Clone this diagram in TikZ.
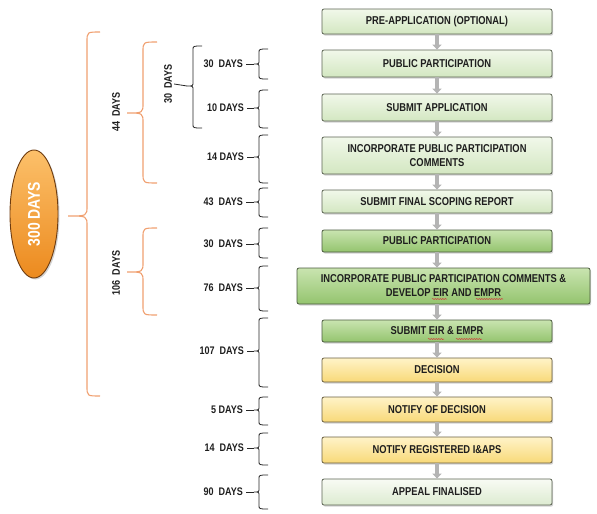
\documentclass[tikz,border=0pt]{standalone}
\usepackage{fontspec}
\setmainfont{Liberation Sans}
\newfontfamily\narrowfont{Liberation Sans}[FakeStretch=0.82]
\usetikzlibrary{arrows.meta,shadows,shapes.geometric,decorations.pathmorphing}
\definecolor{txt}{HTML}{1E1E1E}
\definecolor{pgTop}{HTML}{F1F8EA}
\definecolor{pgBot}{HTML}{D3E7C1}
\definecolor{pgLine}{HTML}{5B6352}
\definecolor{mgTop}{HTML}{C9E4B0}
\definecolor{mgBot}{HTML}{94C46E}
\definecolor{mgLine}{HTML}{4A5A3E}
\definecolor{ylTop}{HTML}{FFF3C8}
\definecolor{ylBot}{HTML}{F8D978}
\definecolor{ylLine}{HTML}{6B6042}
\definecolor{wgTop}{HTML}{F8FBF4}
\definecolor{wgBot}{HTML}{DDEBD1}
\definecolor{orTop}{HTML}{FCC06A}
\definecolor{orBot}{HTML}{EC8A1E}
\definecolor{orLine}{HTML}{6E3C10}
\definecolor{orBrace}{HTML}{F0A070}
\definecolor{arr}{HTML}{B4B4B4}
\definecolor{spell}{HTML}{D23C3C}
\newcommand{\bracedraw}[8]{%
  \draw[#1] (#2,#5) .. controls (#3,#5) .. (#3,#5+#8) -- (#3,#6-#8)
    .. controls (#3,#6) .. (#4,#6) .. controls (#3,#6) .. (#3,#6+#8)
    -- (#3,#7-#8) .. controls (#3,#7) .. (#2,#7);}
\tikzset{
  boxbase/.style={rounded corners=2pt, minimum width=230pt, align=center,
    font=\narrowfont\bfseries\fontsize{11.4}{14}\selectfont, text=txt,
    line width=0.8pt,
    drop shadow={shadow xshift=1.2pt, shadow yshift=-1.6pt, opacity=0.35}},
  palebox/.style={boxbase, draw=pgLine, top color=pgTop, bottom color=pgBot},
  midbox/.style={boxbase, draw=mgLine, top color=mgTop, bottom color=mgBot},
  yelbox/.style={boxbase, draw=ylLine, top color=ylTop, bottom color=ylBot},
  whbox/.style={boxbase, draw=pgLine, top color=wgTop, bottom color=wgBot},
  daylabel/.style={anchor=east, inner xsep=3pt, text=txt,
    font=\narrowfont\bfseries\fontsize{11}{13}\selectfont},
  rotlabel/.style={rotate=90, inner sep=2pt, text=txt,
    font=\narrowfont\bfseries\fontsize{11}{13}\selectfont},
  blackbrace/.style={draw=black!85, line width=0.8pt},
  orangebrace/.style={draw=orBrace, line width=1.1pt},
  tick/.style={draw=black!85, line width=0.8pt},
  flowarrow/.style={draw=arr, line width=4.5pt,
    -{Triangle[width=9pt,length=5pt]}},
  squiggle/.style={draw=spell, line width=0.5pt,
    decorate, decoration={snake, amplitude=0.6pt, segment length=2.5pt}},
}
\begin{document}
\begin{tikzpicture}[x=1pt,y=-1pt]
\useasboundingbox (0,0) rectangle (597,514);
% flow boxes
\node[palebox, minimum height=25pt] (b1) at (437,21.5) {PRE-APPLICATION (OPTIONAL)};
\node[palebox, minimum height=27pt] (b2) at (437,63.5) {PUBLIC PARTICIPATION};
\node[palebox, minimum height=27pt] (b3) at (437,107.5) {SUBMIT APPLICATION};
\node[palebox, minimum height=37pt] (b4) at (437,155.5) {INCORPORATE PUBLIC PARTICIPATION\\COMMENTS};
\node[palebox, minimum height=23pt] (b5) at (437,201.5) {SUBMIT FINAL SCOPING REPORT};
\node[midbox, minimum height=22pt] (b6) at (437,241) {PUBLIC PARTICIPATION};
\node[midbox, minimum height=36pt, minimum width=293pt] (b7) at (443.5,286) {INCORPORATE PUBLIC PARTICIPATION COMMENTS \&\\DEVELOP EIR AND EMPR};
\node[midbox, minimum height=22pt] (b8) at (437,331) {SUBMIT EIR \& EMPR};
\node[yelbox, minimum height=24pt] (b9) at (437,370) {DECISION};
\node[yelbox, minimum height=25pt] (b10) at (437,409.5) {NOTIFY OF DECISION};
\node[yelbox, minimum height=26pt] (b11) at (437,450) {NOTIFY REGISTERED I\&APS};
\node[whbox, minimum height=26pt] (b12) at (437,492) {APPEAL FINALISED};
% spell-check marks
\coordinate (s1a) at (432,299); \coordinate (s1b) at (447,299);
\coordinate (s2a) at (476,299); \coordinate (s2b) at (503,299);
\coordinate (s3a) at (428,339); \coordinate (s3b) at (444,339);
\coordinate (s4a) at (456,339); \coordinate (s4b) at (482,339);
\draw[squiggle] (s1a) -- (s1b);
\draw[squiggle] (s2a) -- (s2b);
\draw[squiggle] (s3a) -- (s3b);
\draw[squiggle] (s4a) -- (s4b);
% arrows
\draw[flowarrow] (b1.south) -- (b2.north);
\draw[flowarrow] (b2.south) -- (b3.north);
\draw[flowarrow] (b3.south) -- (b4.north);
\draw[flowarrow] (b4.south) -- (b5.north);
\draw[flowarrow] (b5.south) -- (b6.north);
\draw[flowarrow] (b6.south) -- (b6.south |- b7.north);
\draw[flowarrow] (b8.north |- b7.south) -- (b8.north);
\draw[flowarrow] (b8.south) -- (b9.north);
\draw[flowarrow] (b9.south) -- (b10.north);
\draw[flowarrow] (b10.south) -- (b11.north);
\draw[flowarrow] (b11.south) -- (b12.north);
% day labels and black braces
\node[daylabel] (l1) at (246,64) {30\ \ DAYS};
\node[daylabel] (l2) at (247,108) {10 DAYS};
\node[daylabel] (l3) at (247,157) {14 DAYS};
\node[daylabel] (l4) at (246,202) {43\ \ DAYS};
\node[daylabel] (l5) at (246,244) {30\ \ DAYS};
\node[daylabel] (l6) at (246,288) {76\ \ DAYS};
\node[daylabel] (l7) at (247,351) {107\ \ DAYS};
\node[daylabel] (l8) at (246,410) {5 DAYS};
\node[daylabel] (l9) at (247,448) {14\ \ DAYS};
\node[daylabel] (l10) at (246,492) {90\ \ DAYS};
\coordinate (t1) at (254,64);
\coordinate (t2) at (254,108);
\coordinate (t3) at (254,157);
\coordinate (t4) at (254,202);
\coordinate (t5) at (254,244);
\coordinate (t6) at (254,288);
\coordinate (t7) at (254,351);
\coordinate (t8) at (254,410);
\coordinate (t9) at (254,448);
\coordinate (t10) at (254,492);
\bracedraw{blackbrace}{268}{259}{254}{49}{64}{79}{4}
\bracedraw{blackbrace}{268}{259}{254}{90}{108}{128}{4}
\bracedraw{blackbrace}{268}{259}{254}{135}{157}{183}{4}
\bracedraw{blackbrace}{268}{259}{254}{188}{202}{217}{4}
\bracedraw{blackbrace}{268}{259}{254}{228}{244}{258}{4}
\bracedraw{blackbrace}{268}{259}{254}{266}{288}{311}{4}
\bracedraw{blackbrace}{268}{259}{254}{318}{351}{387}{4}
\bracedraw{blackbrace}{268}{259}{254}{397}{410}{425}{4}
\bracedraw{blackbrace}{268}{259}{254}{433}{448}{465}{4}
\bracedraw{blackbrace}{268}{259}{254}{475}{492}{509}{4}
\foreach \i in {1,...,10} {\draw[tick] (l\i.east) -- (t\i);}
% group of 30 days
\node[rotlabel] (g30) at (168,84) {30\ \ DAYS};
\coordinate (tg30) at (187,86);
\bracedraw{blackbrace}{202}{193}{187}{46}{86}{128}{4}
\draw[tick] (g30.south) -- (tg30);
% orange braces
\node[rotlabel] (g44) at (116,112) {44\ \ DAYS};
\bracedraw{orangebrace}{157}{143}{127}{42}{113}{183}{10}
\node[rotlabel] (g106) at (116,273) {106\ \ DAYS};
\bracedraw{orangebrace}{157}{143}{127}{228}{272}{315}{10}
\bracedraw{orangebrace}{100}{87}{68}{32}{216}{396}{10}
% 300 days ellipse
\node[ellipse, minimum width=48pt, minimum height=128pt, inner sep=0pt,
  draw=orLine, line width=0.9pt, top color=orTop, bottom color=orBot,
  drop shadow={shadow xshift=1.5pt, shadow yshift=-1.5pt, opacity=0.35}]
  (e300) at (34,214) {};
\node[rotate=90, text=white, font=\narrowfont\bfseries\fontsize{17}{20}\selectfont]
  (t300) at (e300.center) {300 DAYS};
\end{tikzpicture}
\end{document}
